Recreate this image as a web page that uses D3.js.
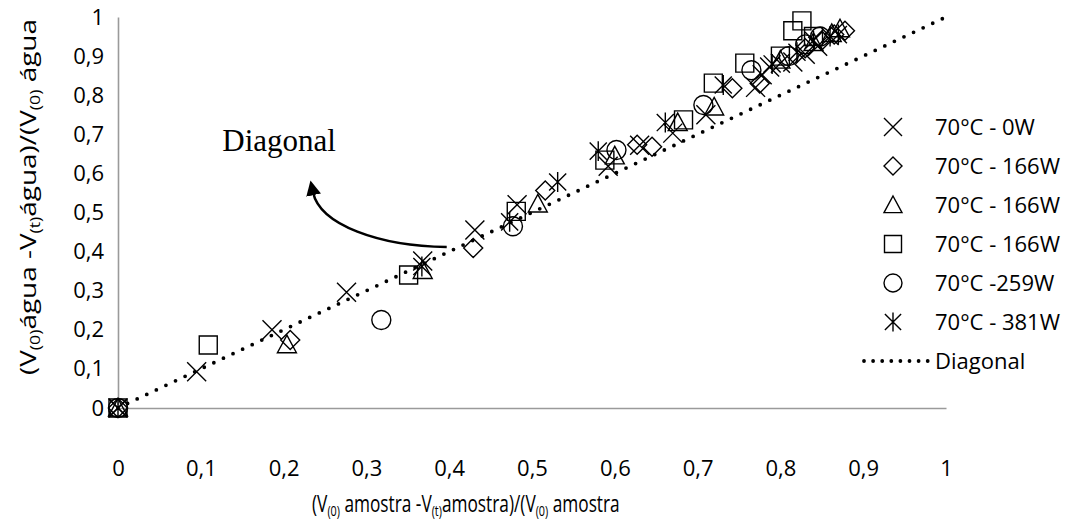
<!DOCTYPE html>
<html><head><meta charset="utf-8">
<script src="https://cdn.jsdelivr.net/npm/d3@7"></script>
<style>body{margin:0;background:#fff}svg{display:block}</style>
</head><body><svg id="c" width="1080" height="524"></svg>
<script>
// ---------- data ----------
const tickValues = [0,0.1,0.2,0.3,0.4,0.5,0.6,0.7,0.8,0.9,1];
const seriesNames = ["70°C - 0W","70°C - 166W","70°C - 166W","70°C - 166W","70°C -259W","70°C - 381W"];
const seriesShapes = ["times","diamond","triangle","square","circle","asterisk"];
const s0W = [[0,0],[0.095,0.093],[0.186,0.2],[0.276,0.296],[0.368,0.376],[0.431,0.455],[0.482,0.52],[0.592,0.618],[0.63,0.672],[0.67,0.703],[0.71,0.75],[0.77,0.82],[0.778,0.852],[0.787,0.872],[0.80,0.882],[0.815,0.885],[0.83,0.905],[0.845,0.925]];
const s166a = [[0,0],[0.208,0.174],[0.429,0.409],[0.516,0.556],[0.627,0.673],[0.645,0.668],[0.742,0.818],[0.775,0.83],[0.83,0.92],[0.85,0.94],[0.865,0.955],[0.878,0.965]];
const s166b = [[0,0],[0.204,0.162],[0.368,0.352],[0.507,0.522],[0.6,0.645],[0.676,0.73],[0.72,0.77],[0.8,0.89],[0.84,0.935],[0.862,0.958],[0.872,0.97]];
const s166c = [[0,0],[0.109,0.161],[0.351,0.34],[0.481,0.503],[0.588,0.634],[0.683,0.737],[0.719,0.831],[0.757,0.882],[0.8,0.9],[0.815,0.965],[0.826,0.99],[0.84,0.95]];
const s259 = [[0,0],[0.318,0.225],[0.477,0.465],[0.602,0.66],[0.707,0.775],[0.765,0.864],[0.81,0.9],[0.83,0.93],[0.848,0.95]];
const s381 = [[0,0],[0.367,0.362],[0.473,0.476],[0.531,0.578],[0.58,0.657],[0.661,0.73],[0.731,0.826],[0.79,0.88],[0.82,0.91],[0.84,0.94],[0.86,0.95],[0.87,0.955]];
const diagonalLine = [[0,0],[1,1]];
const diagonalLabel = "Diagonal";
const arrowPath = [[0.397,0.412],[0.316,0.414],[0.244,0.468],[0.2355,0.552]];
const labelPos = [0.126,0.657];

// ---------- drawing ----------
const svg = d3.select("#c");
const x = d3.scaleLinear().domain([0,1]).range([118,946]);
const y = d3.scaleLinear().domain([0,1]).range([408,17]);
const fmt = v => String(v).replace(".", ",");
const FONT = "'Open Sans', sans-serif";

const shapes = {
  times: h => `M${-h},${-h}L${h},${h}M${-h},${h}L${h},${-h}`,
  diamond: h => `M0,${-h}L${h},0L0,${h}L${-h},0Z`,
  triangle: h => `M0,${-h}L${h},${h*0.85}L${-h},${h*0.85}Z`,
  square: h => `M${-h},${-h}H${h}V${h}H${-h}Z`,
  circle: h => `M${h},0A${h},${h} 0 1,1 ${-h},0A${h},${h} 0 1,1 ${h},0Z`,
  asterisk: h => `M${-h*0.9},${-h*0.9}L${h*0.9},${h*0.9}M${-h*0.9},${h*0.9}L${h*0.9},${-h*0.9}M0,${-h*1.05}V${h*1.05}`
};
const sizes = {times:9.5, diamond:9.5, triangle:9.5, square:9, circle:9.5, asterisk:9.5};

// axes
const xAxis = d3.axisBottom(x).tickValues(tickValues).tickSize(0).tickPadding(52).tickFormat(fmt);
const yAxis = d3.axisLeft(y).tickValues(tickValues).tickSize(0).tickPadding(14).tickFormat(fmt);
const gx = svg.append("g").attr("transform","translate(0,408)").call(xAxis);
const gy = svg.append("g").attr("transform","translate(118,0)").call(yAxis);
[gx,gy].forEach(g=>{
  g.select(".domain").attr("stroke","#9a9a9a").attr("stroke-width",1.6);
  g.selectAll("text").attr("font-family",FONT).attr("font-size",22).attr("fill","#000");
});

// series
const allSeries = [s0W,s166a,s166b,s166c,s259,s381];
allSeries.forEach((data,i)=>{
  const sh = seriesShapes[i];
  svg.append("g").selectAll("path").data(data).join("path")
    .attr("transform",d=>`translate(${x(d[0])},${y(d[1])})`)
    .attr("d",shapes[sh](sizes[sh]))
    .attr("fill","none").attr("stroke","#000").attr("stroke-width",1.4);
});

// diagonal
svg.append("path")
  .attr("d", d3.line().x(d=>x(d[0])).y(d=>y(d[1]))(diagonalLine))
  .attr("fill","none").attr("stroke","#000").attr("stroke-width",3.8)
  .attr("stroke-linecap","round").attr("stroke-dasharray","0,10.6");

// annotation
svg.append("defs").append("marker").attr("id","ah")
  .attr("viewBox","0 0 10 10").attr("refX",2).attr("refY",5)
  .attr("markerWidth",6).attr("markerHeight",6).attr("orient","auto")
  .attr("markerUnits","strokeWidth")
  .append("path").attr("d","M0,0L10,5L0,10Z").attr("fill","#000");
const ap = arrowPath.map(d=>[x(d[0]),y(d[1])]);
svg.append("path")
  .attr("d",`M${ap[0]}C${ap[1]} ${ap[2]} ${ap[3]}`)
  .attr("fill","none").attr("stroke","#000").attr("stroke-width",2.5)
  .attr("marker-end","url(#ah)");
svg.append("text").attr("x",x(labelPos[0])).attr("y",y(labelPos[1]))
  .attr("font-family","'Liberation Serif', 'Times New Roman', serif").attr("font-size",31)
  .attr("fill","#000").text(diagonalLabel);

// legend
const legRows = [127,166,205,244,283,322,361];
seriesNames.forEach((n,i)=>{
  const sh = seriesShapes[i];
  svg.append("path").attr("transform",`translate(893,${legRows[i]})`)
    .attr("d",shapes[sh](sh==="square"?8.5:9)).attr("fill","none").attr("stroke","#000").attr("stroke-width",1.4);
  svg.append("text").attr("x",935).attr("y",legRows[i]).attr("dy","0.36em")
    .attr("font-family",FONT).attr("font-size",22).attr("fill","#000").text(n);
});
svg.append("line").attr("x1",864).attr("x2",928).attr("y1",legRows[6]).attr("y2",legRows[6])
  .attr("stroke","#000").attr("stroke-width",3.8).attr("stroke-linecap","round").attr("stroke-dasharray","0,9.1");
svg.append("text").attr("x",935).attr("y",legRows[6]).attr("dy","0.36em")
  .attr("font-family",FONT).attr("font-size",22).attr("fill","#000").text("Diagonal");

// axis titles with subscripts
function richText(g, parts, fs){
  const t = g.append("text").attr("font-family",FONT).attr("font-size",fs).attr("fill","#000");
  let shift = 0;
  parts.forEach(p=>{
    const ts = t.append("tspan").text(p.t);
    if(p.sub){ ts.attr("font-size",Math.round(fs*0.64)).attr("dy",4-shift); shift = 4; }
    else { if(shift){ ts.attr("dy",-shift); shift = 0; } }
  });
  return t;
}
function fitTitle(parts, cx, cy, len, rot, fs){
  const g = svg.append("g");
  const t = richText(g, parts, fs);
  const bb = t.node().getBBox();
  const sx = len / bb.width;
  t.attr("transform",`translate(${-bb.x - bb.width/2},${-(bb.y + bb.height/2)})`);
  g.attr("transform",`translate(${cx},${cy}) rotate(${rot}) scale(${sx},1)`);
}
fitTitle([{t:"(V"},{t:"(0)",sub:true},{t:" amostra -V"},{t:"(t)",sub:true},{t:"amostra)/(V"},{t:"(0)",sub:true},{t:" amostra"}], 466, 503, 308, 0, 24);
fitTitle([{t:"(V"},{t:"(0)",sub:true},{t:"água -V"},{t:"(t)",sub:true},{t:"água)/(V"},{t:"(0)",sub:true},{t:" água"}], 28, 197, 356, -90, 22);
</script></body></html>
